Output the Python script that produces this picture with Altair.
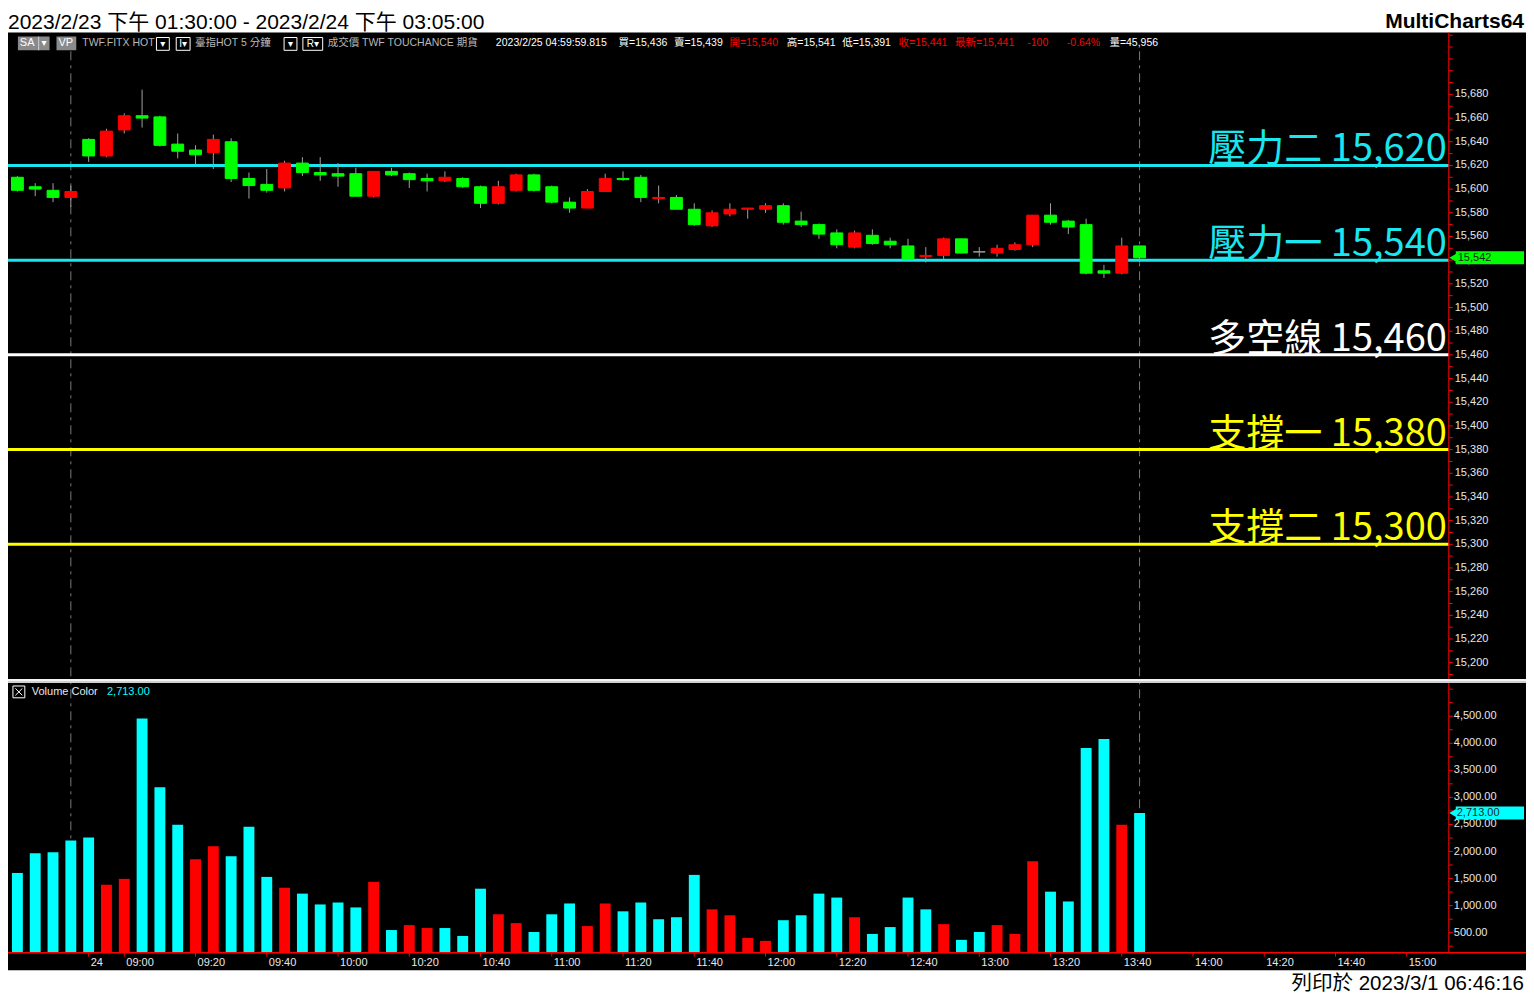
import altair as alt
import pandas as pd

# ------------------------------------------------------------------ data
# 5-minute bars: 2023/2/23 13:30..13:45, then 2023/2/24 08:50..13:45
opens = [15610, 15602, 15599, 15593, 15642, 15628, 15650, 15662, 15661, 15638,
         15633, 15631, 15640, 15609, 15604, 15601, 15622, 15614, 15613, 15613,
         15594, 15615, 15613, 15609, 15607, 15609, 15602, 15588, 15599, 15612,
         15602, 15589, 15584, 15598, 15609, 15610, 15592, 15593, 15583, 15569,
         15579, 15583, 15583, 15586, 15573, 15570, 15563, 15551, 15561, 15556,
         15552, 15543, 15544, 15558, 15547, 15546, 15549, 15553, 15578, 15573,
         15570, 15531, 15529, 15552]
highs = [15611, 15605, 15605, 15603, 15643, 15651, 15664, 15684, 15662, 15647,
         15637, 15646, 15643, 15614, 15617, 15624, 15627, 15627, 15622, 15618,
         15615, 15618, 15614, 15613, 15615, 15610, 15603, 15607, 15613, 15613,
         15603, 15593, 15600, 15613, 15615, 15612, 15603, 15595, 15588, 15582,
         15588, 15584, 15588, 15588, 15581, 15571, 15566, 15565, 15566, 15559,
         15558, 15551, 15559, 15558, 15551, 15553, 15555, 15578, 15588, 15574,
         15575, 15536, 15559, 15552]
lows = [15598, 15594, 15589, 15585, 15623, 15627, 15647, 15652, 15636, 15626,
        15621, 15617, 15606, 15592, 15597, 15598, 15611, 15607, 15602, 15594,
        15593, 15611, 15601, 15598, 15606, 15601, 15584, 15587, 15598, 15598,
        15588, 15580, 15584, 15598, 15607, 15589, 15588, 15583, 15569, 15568,
        15577, 15575, 15580, 15570, 15568, 15558, 15550, 15550, 15553, 15550,
        15540, 15538, 15541, 15546, 15543, 15543, 15548, 15551, 15570, 15562,
        15528, 15525, 15528, 15538]
closes = [15599, 15600, 15593, 15598, 15628, 15649, 15662, 15660, 15637, 15632,
          15629, 15642, 15609, 15603, 15599, 15622, 15614, 15612, 15611, 15594,
          15615, 15612, 15608, 15607, 15610, 15602, 15588, 15602, 15612, 15599,
          15589, 15584, 15598, 15609, 15608, 15593, 15593, 15583, 15570, 15580,
          15583, 15584, 15586, 15572, 15570, 15562, 15553, 15563, 15554, 15553,
          15541, 15544, 15558, 15546, 15547, 15550, 15553, 15578, 15572, 15568,
          15529, 15529, 15552, 15542]
volumes = [1604, 1968, 1986, 2204, 2258, 1386, 1495, 4458, 3186, 2495,
           1858, 2095, 1913, 2458, 1531, 1331, 1222, 1022, 1058, 967,
           1440, 549, 640, 586, 586, 440, 1313, 840, 677, 513,
           840, 1040, 622, 1040, 895, 1058, 749, 786, 1568, 931,
           822, 404, 349, 731, 822, 1222, 1149, 786, 477, 604,
           1149, 931, 658, 368, 513, 640, 477, 1822, 1258, 1077,
           3913, 4077, 2495, 2713]
vol_tone = list("CCCCCRRCCCRRCCCRCCCCRCRRCCCRRCCCRRCCCCCRRRRCCCCRCCCCRCCRRRCCCCRC")

session_breaks = [3, 63]
time_tick_index = [4, 6, 10, 14, 18, 22, 26, 30, 34, 38, 42, 46, 50, 54, 58, 62, 66, 70, 74, 78]
time_tick_label = ["24", "09:00", "09:20", "09:40", "10:00", "10:20", "10:40", "11:00", "11:20",
                   "11:40", "12:00", "12:20", "12:40", "13:00", "13:20", "13:40", "14:00",
                   "14:20", "14:40", "15:00"]

level_names = ["壓力二", "壓力一", "多空線", "支撐一", "支撐二"]
level_values = [15620, 15540, 15460, 15380, 15300]

price_labels = list(range(15200, 15681, 20))
price_minor = list(range(15190, 15731, 10))
vol_labels = list(range(500, 4501, 500))
vol_minor = list(range(250, 5001, 250))

title_text = "2023/2/23 下午 01:30:00 - 2023/2/24 下午 03:05:00"
brand_text = "MultiCharts64"
footer_text = "列印於 2023/3/1 06:46:16"
info_texts = ["TWF.FITX HOT", "臺指HOT  5 分鐘", "成交價  TWF  TOUCHANCE  期貨",
              "2023/2/25  04:59:59.815", "買=15,436", "賣=15,439", "開=15,540",
              "高=15,541", "低=15,391", "收=15,441", "最新=15,441", "-100", "-0.64%",
              "量=45,956"]

# ------------------------------------------------------------------ styles / layout
W, H = 1518, 985
SX, SY = W / 1534, H / 1001


def X(v):
    return round(v * SX, 2)


def Y(v):
    return round(v * SY, 2)


RED = "#ff0000"
GREEN = "#00ff00"
CYAN = "#00ffff"
LCYAN = "#19e6ee"
YELLOW = "#ffff00"
WHITE = "#ffffff"
GRAYTXT = "#b8b8b8"
LABEL = "#e8e8e8"
WICK = "#a0a0a0"
FONT = "Liberation Sans, Noto Sans CJK TC, DejaVu Sans"
CJK = "Noto Sans CJK TC"

level_colors = [LCYAN, LCYAN, WHITE, YELLOW, YELLOW]
info_x = [75, 189, 323, 493, 617, 673, 729, 787, 843, 900, 957, 1030, 1070, 1113]
info_col = [GRAYTXT, GRAYTXT, GRAYTXT, WHITE, WHITE, WHITE, RED, WHITE, WHITE, RED, RED,
            RED, RED, WHITE]

PLOT_R = 1456
xs = alt.Scale(domain=[(0 - 9.5) / 18, (PLOT_R - 9.5) / 18], range=[0, X(PLOT_R)],
               nice=False, zero=False, padding=0)


def p_at(y):
    return 15620 - (y - 160) / 1.2031


def v_at(y):
    return 2713 - (y - 818) / 0.055


VBASE = v_at(960)
ps = alt.Scale(domain=[p_at(682), p_at(25)], range=[Y(682), Y(25)], nice=False, zero=False,
               padding=0)
vs = alt.Scale(domain=[VBASE, v_at(685)], range=[Y(960), Y(685)], nice=False, zero=False,
               padding=0)

# ------------------------------------------------------------------ tables
n = len(opens)
candles = pd.DataFrame({"i": list(range(n)), "open": opens, "high": highs,
                        "low": lows, "close": closes})
candles["dir"] = ["up" if c > o else ("down" if c < o else "flat")
                  for o, c in zip(opens, closes)]
vol = pd.DataFrame({"i": list(range(n)), "vol": volumes, "tone": vol_tone})
levels = pd.DataFrame({"v": level_values, "c": level_colors,
                       "t": [f"{a} {b:,}" for a, b in zip(level_names, level_values)]})
one = pd.DataFrame({"d": [0]})

L = []


def rect(x1, y1, x2, y2, fill, stroke=None, sw=1):
    kw = dict(fill=fill)
    if stroke:
        kw.update(stroke=stroke, strokeWidth=sw)
    return alt.Chart(one).mark_rect(**kw).encode(
        x=alt.value(X(x1)), x2=alt.value(X(x2)), y=alt.value(Y(y1)), y2=alt.value(Y(y2)))


def line(x1, y1, x2, y2, color, sw=1, dash=None):
    kw = dict(color=color, strokeWidth=sw)
    if dash:
        kw["strokeDash"] = dash
    return alt.Chart(one).mark_rule(**kw).encode(
        x=alt.value(X(x1)), x2=alt.value(X(x2)), y=alt.value(Y(y1)), y2=alt.value(Y(y2)))


def txt(s, x, y, size, color, align="left", baseline="middle", font=FONT, weight="normal"):
    return alt.Chart(one).mark_text(text=s, align=align, baseline=baseline, fontSize=size,
                                    color=color, font=font, fontWeight=weight).encode(
        x=alt.value(X(x)), y=alt.value(Y(y)))


# background panels
L.append(rect(0, 25, 1534, 978, "#000000"))

# header
L.append(txt(title_text, 0, 21, 21, "#000000", baseline="alphabetic"))
L.append(txt(brand_text, 1532, 20, 21, "#000000", align="right", baseline="alphabetic",
             font="Liberation Sans", weight="bold"))

# info bar
L.append(rect(10, 29, 42, 43, "#8a8a8a"))
L.append(line(31, 29, 31, 43, "#cfcfcf"))
L.append(txt("SA", 12, 36, 11, WHITE))
L.append(txt("▾", 36.5, 36, 10, WHITE, align="center"))
L.append(rect(49, 29, 69, 43, "#8a8a8a"))
L.append(txt("VP", 51, 36, 11, WHITE))
for bx1, bx2, lab in [(150, 163, "▾"), (170, 184, "I▾"), (279, 292, "▾"), (298, 318, "R▾")]:
    L.append(rect(bx1, 30, bx2, 43, "#000000", stroke=WHITE))
    L.append(txt(lab, (bx1 + bx2) / 2, 36.5, 10, WHITE, align="center"))
for s, x, c in zip(info_texts, info_x, info_col):
    L.append(txt(s, x, 36, 10.5, c))

# session separators
L.append(alt.Chart(pd.DataFrame({"i": session_breaks})).mark_rule(
    color="#7a7a7a", strokeWidth=1, strokeDash=[9, 5, 3, 5]).encode(
    x=alt.X("i:Q", scale=xs, axis=None), y=alt.value(Y(44)), y2=alt.value(Y(960))))

# support / resistance levels
L.append(alt.Chart(levels).mark_rule(strokeWidth=3).encode(
    y=alt.Y("v:Q", scale=ps, axis=None), x=alt.value(0), x2=alt.value(X(PLOT_R)),
    color=alt.Color("c:N", scale=None, legend=None)))
L.append(alt.Chart(levels).mark_text(align="right", baseline="alphabetic", dy=-4,
                                     fontSize=38, font=CJK).encode(
    y=alt.Y("v:Q", scale=ps, axis=None), x=alt.value(X(1454)), text="t:N",
    color=alt.Color("c:N", scale=None, legend=None)))

# candles
L.append(alt.Chart(candles).mark_rule(color=WICK, strokeWidth=1).encode(
    x=alt.X("i:Q", scale=xs, axis=None), y=alt.Y("low:Q", scale=ps, axis=None), y2="high:Q"))
dir_scale = alt.Scale(domain=["up", "down", "flat"], range=[RED, GREEN, WICK])
L.append(alt.Chart(candles).mark_bar(size=X(12), strokeWidth=1).encode(
    x=alt.X("i:Q", scale=xs, axis=None), y=alt.Y("open:Q", scale=ps, axis=None), y2="close:Q",
    color=alt.Color("dir:N", scale=dir_scale, legend=None),
    stroke=alt.Stroke("dir:N", scale=dir_scale, legend=None)))

# price axis
L.append(line(PLOT_R, 25, PLOT_R, 682, RED))
L.append(alt.Chart(pd.DataFrame({"v": price_minor})).mark_rule(color=RED).encode(
    y=alt.Y("v:Q", scale=ps, axis=None), x=alt.value(X(PLOT_R)), x2=alt.value(X(PLOT_R + 4))))
L.append(alt.Chart(pd.DataFrame({"v": price_labels})).mark_text(
    align="left", baseline="middle", fontSize=11, font=FONT, color=LABEL).encode(
    y=alt.Y("v:Q", scale=ps, axis=None), x=alt.value(X(1462)),
    text=alt.Text("v:Q", format=",")))

# last price tag
last_p = pd.DataFrame({"v": [closes[-1]]})
L.append(alt.Chart(last_p).mark_rule(color=GREEN, strokeWidth=13).encode(
    y=alt.Y("v:Q", scale=ps, axis=None), x=alt.value(X(1463)), x2=alt.value(X(1532))))
L.append(alt.Chart(last_p).mark_point(shape="triangle-left", filled=True, opacity=1,
                                      size=110, color=GREEN).encode(
    y=alt.Y("v:Q", scale=ps, axis=None), x=alt.value(X(1461))))
L.append(alt.Chart(last_p).mark_text(align="left", baseline="middle", fontSize=11, font=FONT,
                                     color="#1a2a1a").encode(
    y=alt.Y("v:Q", scale=ps, axis=None), x=alt.value(X(1465)),
    text=alt.Text("v:Q", format=",")))

# panel divider
L.append(rect(0, 682, 1534, 686, "#cfcfcf"))
L.append(line(0, 683, 1534, 683, WHITE, sw=1.5))

# volume legend
L.append(rect(5, 689, 17, 701, "#000000", stroke=WHITE))
L.append(line(7.5, 691.5, 14.5, 698.5, WHITE))
L.append(line(14.5, 691.5, 7.5, 698.5, WHITE))
L.append(txt("Volume Color", 24, 695, 11, LABEL))
L.append(alt.Chart(pd.DataFrame({"v": [volumes[-1]]})).mark_text(
    align="left", baseline="middle", fontSize=11, font=FONT, color=CYAN).encode(
    x=alt.value(X(100)), y=alt.value(Y(695)), text=alt.Text("v:Q", format=",.2f")))

# volume bars
L.append(alt.Chart(vol).mark_bar(size=X(11)).encode(
    x=alt.X("i:Q", scale=xs, axis=None), y=alt.Y("vol:Q", scale=vs, axis=None),
    y2=alt.datum(VBASE),
    color=alt.Color("tone:N", scale=alt.Scale(domain=["C", "R"], range=[CYAN, RED]),
                    legend=None)))

# volume axis
L.append(line(PLOT_R, 686, PLOT_R, 960, RED))
L.append(alt.Chart(pd.DataFrame({"v": vol_minor})).mark_rule(color=RED).encode(
    y=alt.Y("v:Q", scale=vs, axis=None), x=alt.value(X(PLOT_R)), x2=alt.value(X(PLOT_R + 4))))
L.append(alt.Chart(pd.DataFrame({"v": vol_labels})).mark_text(
    align="left", baseline="middle", fontSize=11, font=FONT, color=LABEL).encode(
    y=alt.Y("v:Q", scale=vs, axis=None), x=alt.value(X(1461)),
    text=alt.Text("v:Q", format=",.2f")))
last_v = pd.DataFrame({"v": [volumes[-1]]})
L.append(alt.Chart(last_v).mark_rule(color=CYAN, strokeWidth=13).encode(
    y=alt.Y("v:Q", scale=vs, axis=None), x=alt.value(X(1463)), x2=alt.value(X(1532))))
L.append(alt.Chart(last_v).mark_point(shape="triangle-left", filled=True, opacity=1,
                                      size=110, color=CYAN).encode(
    y=alt.Y("v:Q", scale=vs, axis=None), x=alt.value(X(1461))))
L.append(alt.Chart(last_v).mark_text(align="left", baseline="middle", fontSize=11, font=FONT,
                                     color="#1a2a2a").encode(
    y=alt.Y("v:Q", scale=vs, axis=None), x=alt.value(X(1464)),
    text=alt.Text("v:Q", format=",.2f")))

# time axis
L.append(line(0, 960, 1534, 960, RED, sw=1.5))
ticks = pd.DataFrame({"i": time_tick_index, "t": time_tick_label})
L.append(alt.Chart(ticks).mark_rule(color=RED).encode(
    x=alt.X("i:Q", scale=xs, axis=None), y=alt.value(Y(960)), y2=alt.value(Y(964))))
L.append(alt.Chart(ticks).mark_text(align="left", baseline="middle", dx=2, fontSize=11,
                                    font=FONT, color=LABEL).encode(
    x=alt.X("i:Q", scale=xs, axis=None), y=alt.value(Y(970)), text="t:N"))

# footer
L.append(txt(footer_text, 1532, 998, 20.5, "#000000", align="right", baseline="alphabetic"))

chart = alt.layer(*L).resolve_scale(
    y="independent", color="independent", stroke="independent"
).properties(
    width=W, height=H, background="white", padding=0,
    autosize=alt.AutoSizeParams(type="none")
).configure_view(stroke=None)

chart.save("out.html", embed_options={"renderer": "svg", "actions": False})
